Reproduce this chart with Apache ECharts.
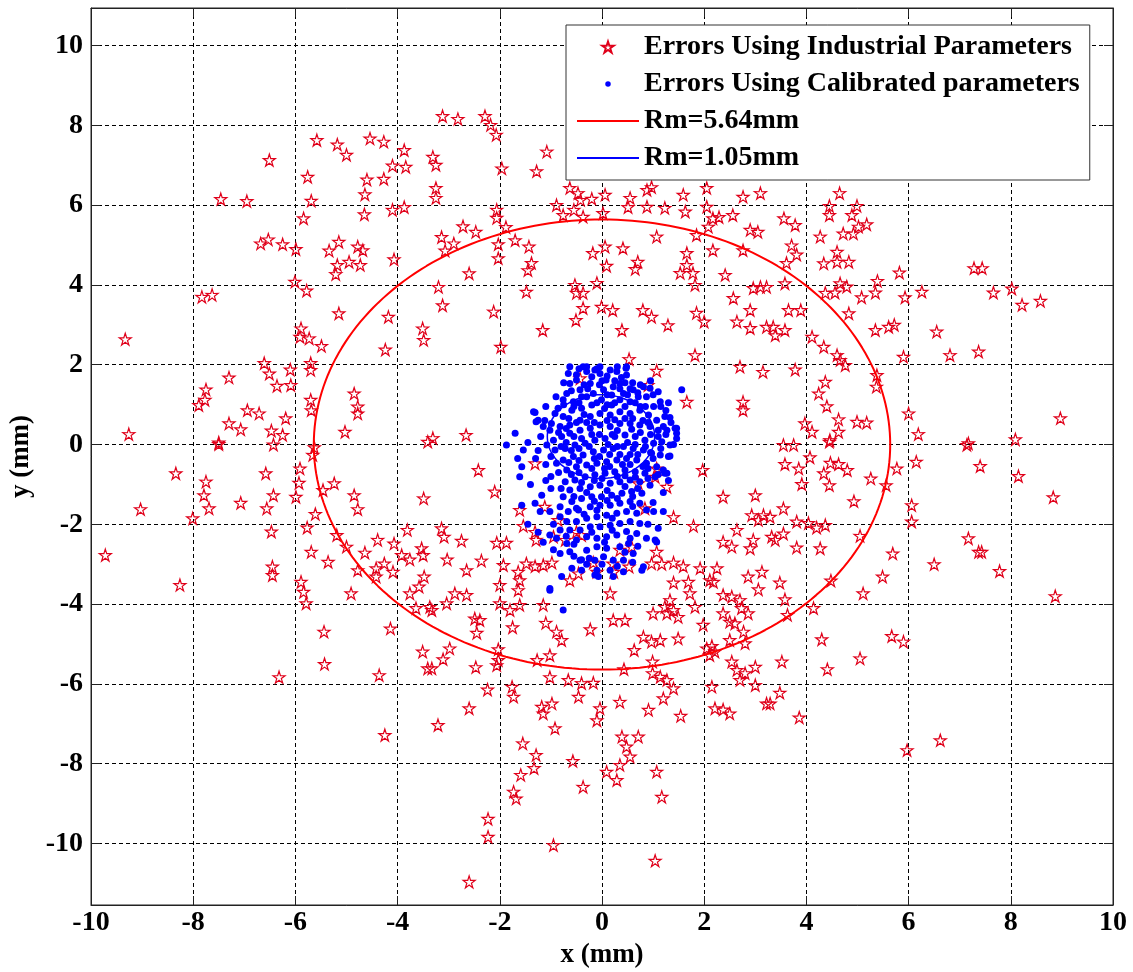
<!DOCTYPE html>
<html>
<head>
<meta charset="utf-8">
<script src="https://cdn.jsdelivr.net/npm/echarts@6/dist/echarts.min.js"></script>
<style>html,body{margin:0;padding:0;background:#fff}#chart{width:1133px;height:972px}</style>
</head>
<body>
<div id="chart"></div>
<script>
// tick values
var yTicks = [-10, -8, -6, -4, -2, 0, 2, 4, 6, 8, 10];

// circle radii (mm) and centres
var industrialRm = 5.64, industrialCenter = [0, 0];
var calibratedRm = 1.05, calibratedCenter = [-0.02, 0.2];

// errors using industrial parameters (x, y in mm)
var industrialErrors = [
  [-3.12,8.23],[-2.82,8.16],[-2.29,8.23],[-2.18,8.01],[-2.07,7.76],[-3.31,7.21],[-3.25,7.01],[-1.08,7.34],[-1.96,6.92],[-1.28,6.85],
  [-3.25,6.43],[-3.25,6.18],[-0.63,6.43],[-0.47,6.3],[-0.42,6.13],[-0.2,6.16],[0.06,6.26],[-0.89,6.0],[-0.76,5.75],[-0.55,5.88],
  [-0.37,5.71],[0.02,5.8],[0.55,6.18],[0.51,5.95],[0.88,6.38],[0.97,6.45],[0.88,5.96],[1.23,5.93],[1.59,6.26],[1.63,5.84],
  [2.05,6.43],[2.05,5.96],[2.17,5.67],[2.29,5.7],[2.56,5.75],[2.76,6.21],[3.1,6.3],[-2.06,5.88],[-2.06,5.68],[-1.88,5.45],
  [-2.72,5.47],[-2.47,5.33],[-3.14,5.2],[-2.9,5.04],[-3.07,4.86],[-2.03,5.02],[-2.03,4.67],[-1.7,5.12],[-1.43,4.96],[-1.38,4.55],
  [-1.45,4.37],[-2.6,4.29],[-0.18,4.8],[0.06,4.96],[0.09,4.48],[0.41,4.92],[0.7,4.58],[0.65,4.4],[1.07,5.21],[1.66,4.8],
  [1.66,4.5],[1.53,4.3],[1.78,4.3],[1.82,4.0],[1.85,5.25],[2.08,5.46],[2.17,4.87],[2.76,4.87],[2.9,5.38],[3.05,5.33],
  [2.41,4.25],[2.96,3.92],[3.1,3.95],[3.22,3.95],[-3.2,3.95],[-3.12,3.49],[-1.48,3.83],[-2.12,3.33],[-0.53,4.0],[-0.5,3.8],
  [-0.37,3.8],[-0.1,4.05],[-0.37,3.42],[-0.51,3.12],[-1.16,2.87],[-0.01,3.45],[0.21,3.37],[0.39,2.87],[0.8,3.37],[0.97,3.2],
  [1.29,2.99],[1.85,3.3],[2.0,3.08],[2.57,3.67],[2.64,3.08],[2.9,3.37],[2.9,2.92],[3.22,2.95],[-1.98,2.45],[0.53,2.14],
  [1.82,2.24],[1.07,1.85],[0.9,1.49],[1.66,1.07],[2.7,1.95],[3.15,1.82],[2.76,1.07],[2.76,0.86],[-2.66,0.24],[-3.31,0.16],
  [-0.43,1.66],
  [-5.58,7.63],[-5.18,7.52],[-5.0,7.26],[-4.54,7.67],[-4.27,7.59],[-3.87,7.38],[-6.51,7.13],[-5.76,6.71],[-4.6,6.64],[-4.27,6.66],
  [-4.1,6.99],[-3.84,6.96],[-4.64,6.27],[-7.46,6.15],[-6.95,6.1],[-5.69,6.11],[-4.65,5.77],[-4.1,5.88],[-3.87,5.95],[-5.84,5.67],
  [-6.68,5.04],[-6.53,5.14],[-6.25,5.02],[-5.99,4.9],[-5.34,4.86],[-5.15,5.08],[-4.78,4.96],[-4.68,4.87],[-5.18,4.5],[-5.21,4.27],
  [-4.95,4.58],[-4.73,4.5],[-4.07,4.64],[-6.01,4.08],[-5.78,3.86],[-7.83,3.7],[-7.63,3.75],[-5.15,3.29],[-4.18,3.2],[-9.33,2.64],
  [-5.89,2.91],[-5.91,2.7],[-5.73,2.66],[-5.49,2.47],[-4.24,2.38],[-3.51,2.91],[-3.49,2.62],[-5.7,2.04],[-5.7,1.87],[-6.61,2.04],
  [-6.51,1.78],[-6.1,1.88],[-6.09,1.49],[-7.3,1.68],[-6.36,1.47],[-7.75,1.38],[-7.77,1.12],[-7.89,0.99],[-6.94,0.86],[-6.71,0.78],
  [-6.19,0.66],[-5.7,1.12],[-5.69,0.86],[-4.85,1.28],[-4.78,0.95],[-4.78,0.78],[-7.3,0.53],[-7.07,0.38],[-6.47,0.35],[-6.25,0.24],
  [-9.26,0.26],[-5.03,0.32],[-7.5,0.05],[-6.43,0.0],[-3.41,0.07],
  [4.65,6.3],[4.45,5.98],[4.45,5.75],[4.99,5.98],[4.89,5.75],[3.56,5.67],[3.78,5.5],[5.18,5.52],[5.02,5.46],[4.27,5.21],
  [4.72,5.29],[4.92,5.29],[3.71,4.99],[3.81,4.76],[3.61,4.55],[4.6,4.83],[4.6,4.58],[4.83,4.58],[4.34,4.54],[5.82,4.31],
  [7.28,4.42],[7.44,4.42],[3.58,4.04],[4.66,4.04],[4.79,3.96],[4.37,3.8],[4.56,3.81],[5.39,4.1],[5.35,3.81],[5.08,3.69],
  [5.93,3.69],[6.26,3.83],[7.66,3.81],[8.02,3.91],[8.22,3.5],[8.58,3.6],[3.65,3.37],[3.89,3.37],[4.83,3.29],[3.35,2.95],
  [3.39,2.74],[3.58,2.87],[4.11,2.7],[4.34,2.45],[5.35,2.87],[5.61,2.95],[5.72,3.0],[6.55,2.83],[4.6,2.24],[4.66,2.12],
  [4.76,1.99],[3.78,1.88],[6.81,2.24],[7.37,2.33],[5.9,2.2],[5.38,1.74],[5.37,1.45],[4.37,1.57],[4.24,1.28],[4.4,0.96],
  [4.63,0.63],[4.99,0.57],[5.18,0.55],[3.97,0.53],[4.11,0.32],[4.63,0.32],[4.46,0.11],[6.0,0.78],[6.19,0.26],[8.97,0.66],
  [7.17,0.03],[8.09,0.13],[3.55,-0.01],[3.75,-0.01],
  [-7.5,0.01],[-8.34,-0.72],[-7.75,-0.93],[-7.79,-1.27],[-7.69,-1.6],[-9.03,-1.62],[-8.01,-1.85],[-7.07,-1.46],[-6.58,-0.72],[-6.56,-1.6],
  [-6.43,-1.27],[-6.47,-2.18],[-9.72,-2.77],[-6.45,-3.06],[-6.45,-3.27],[-8.26,-3.52],[-5.91,-0.6],[-5.93,-0.96],[-5.99,-1.31],[-5.63,-0.07],
  [-5.66,-0.26],[-5.46,-1.14],[-5.24,-0.97],[-4.85,-1.27],[-4.78,-1.62],[-5.61,-1.74],[-5.77,-2.08],[-5.69,-2.69],[-5.36,-2.94],[-5.19,-2.27],
  [-5.0,-2.56],[-4.64,-2.71],[-4.78,-3.15],[-5.89,-3.44],[-5.84,-3.69],[-5.79,-3.98],[-4.91,-3.73],[-4.39,-2.39],[-4.07,-2.48],[-3.81,-2.14],
  [-4.42,-3.1],[-4.26,-2.98],[-4.09,-3.19],[-4.42,-3.31],[-3.92,-2.77],[-3.76,-2.88],[-3.53,-2.6],[-3.5,-2.77],[-3.48,-3.31],[-3.58,-3.56],
  [-3.76,-3.73],[-3.64,-4.1],[-3.49,-1.35],[-5.44,-4.69],[-5.43,-5.5],[-6.32,-5.83],[-4.36,-5.78],[-4.14,-4.61],[-3.51,-5.19],[-3.41,-5.61],
  [-4.25,-7.28],
  [-2.42,-0.64],[-2.1,-1.18],[-1.31,-0.47],[-1.61,-1.64],[-1.12,-1.56],[-0.86,-1.89],[-1.54,-2.04],[-1.31,-2.19],[-1.29,-2.39],[-0.95,-2.31],
  [-0.72,-2.39],[-0.5,-2.19],[-0.4,-2.27],[-3.14,-2.1],[-3.09,-2.31],[-2.75,-2.41],[-2.06,-2.46],[-1.87,-2.46],[-3.03,-2.88],[-2.65,-3.15],
  [-2.36,-2.91],[-1.93,-3.02],[-1.64,-3.19],[-1.61,-3.4],[-1.64,-3.65],[-1.48,-2.98],[-1.31,-3.05],[-1.15,-3.02],[-0.98,-2.96],[-2.0,-3.52],
  [-0.63,-3.4],[-0.46,-3.23],[-0.17,-2.96],[-0.1,-3.19],[0.21,-2.98],[0.23,-3.19],[0.53,-3.06],[0.35,-2.64],[0.58,-2.56],[0.84,-1.6],
  [1.07,-0.6],[1.04,-0.81],[1.27,-1.06],[1.4,-1.82],[0.97,-2.98],[1.17,-2.99],[1.4,-2.96],[1.59,-3.05],[1.07,-2.69],[1.4,-3.46],
  [1.69,-3.44],[1.72,-3.73],[1.33,-3.9],[1.23,-4.07],[1.4,-4.15],[1.49,-4.32],[1.0,-4.23],[1.27,-4.23],[1.82,-4.07],[1.79,-2.04],
  [1.97,-0.64],[1.98,-4.52],[2.15,-5.05],[2.11,-5.28],[1.92,-3.1],[2.11,-3.4],[2.37,-1.31],[3.0,-1.27],[2.93,-1.77],[3.06,-1.89],
  [3.16,-1.77],[2.64,-2.14],[2.37,-2.44],[2.54,-2.56],[2.9,-2.6],[2.96,-2.39],[2.25,-3.1],[2.18,-3.44],[2.86,-3.31],[3.13,-3.19],
  [3.06,-3.63],[2.37,-3.77],[2.54,-3.81],[2.7,-3.9],[2.73,-4.1],[2.86,-4.23],[2.37,-4.23],[2.5,-4.44],[2.6,-4.48],[2.77,-4.69],
  [2.8,-4.98],[2.5,-4.9],[2.05,-5.11],[2.21,-5.19],[2.54,-5.44],[2.64,-5.65],[2.8,-5.73],[3.0,-5.57],[2.7,-5.9],[3.0,-6.03],
  [2.15,-6.07],[2.21,-6.61],[2.37,-6.64],[2.5,-6.74],[3.22,-6.49],[1.54,-6.8],[1.2,-6.36],[0.99,-5.44],[0.99,-5.73],[1.14,-5.82],
  [1.27,-5.9],[1.4,-6.11],[0.81,-4.82],[0.97,-4.94],[1.14,-4.9],[1.49,-4.86],[0.63,-5.15],[0.43,-5.63],[0.22,-4.4],[0.45,-4.4],
  [-0.23,-4.63],[-1.75,-4.58],[-1.1,-4.47],[-0.89,-4.69],[-0.79,-4.9],[-1.02,-5.28],[-1.27,-5.4],[-2.49,-4.36],[-2.39,-4.4],[-2.45,-4.72],
  [-2.03,-5.13],[-2.06,-5.53],[-2.03,-5.4],[-2.47,-5.58],[-2.98,-5.11],[-3.11,-5.38],[-3.33,-5.61],[-3.37,-4.07],[-3.33,-4.15],[-3.04,-3.98],
  [-2.88,-3.73],[-2.65,-3.77],[-2.0,-3.98],[-1.8,-4.15],[-1.61,-4.02],[-1.15,-4.02],[-2.24,-6.14],[-1.76,-6.07],[-1.73,-6.32],[-2.6,-6.61],
  [-3.21,-7.03],[-1.18,-6.57],[-0.98,-6.49],[-1.15,-6.74],[-0.92,-7.11],[-0.46,-6.32],[-0.4,-5.98],[-0.17,-5.97],[-0.66,-5.9],[-1.02,-5.83],
  [-0.04,-6.61],[-0.1,-6.91],[0.35,-6.45],[0.91,-6.65],[-1.55,-7.49],[-1.29,-7.78],[-1.33,-8.11],[-1.59,-8.28],[-1.73,-8.7],[-1.68,-8.87],
  [-0.57,-7.93],[-0.37,-8.58],[0.39,-7.32],[0.71,-7.32],[0.48,-7.57],[0.55,-7.82],[0.35,-8.03],[0.09,-8.2],[0.29,-8.41],[1.07,-8.2],
  [1.17,-8.83],[-2.23,-9.38],[-2.23,-9.83],[-0.95,-10.04],[1.04,-10.43],[-2.6,-10.96],[0.16,-3.73],[0.71,-0.97],
  [4.45,0.07],[4.07,-0.32],[3.58,-0.49],[3.85,-0.6],[3.91,-0.99],[4.47,-0.46],[4.63,-0.49],[4.8,-0.64],[4.34,-0.72],[4.45,-1.02],
  [5.26,-0.85],[4.93,-1.42],[5.77,-0.6],[6.15,-0.43],[6.06,-1.52],[6.06,-1.93],[5.56,-1.02],[7.14,-0.01],[7.4,-0.54],[8.15,-0.79],
  [8.83,-1.32],[3.55,-1.6],[3.29,-1.81],[3.32,-2.31],[3.81,-1.93],[4.04,-1.97],[4.2,-2.08],[4.37,-2.02],[3.55,-2.23],[3.39,-2.39],
  [3.81,-2.58],[4.27,-2.6],[5.05,-2.29],[5.69,-2.73],[5.49,-3.31],[5.11,-3.73],[4.48,-3.41],[3.48,-3.46],[3.58,-3.88],[3.63,-4.27],
  [4.14,-4.1],[7.17,-2.35],[7.37,-2.69],[7.43,-2.69],[6.5,-3.0],[7.78,-3.17],[8.87,-3.8],[4.3,-4.88],[4.41,-5.63],[5.05,-5.36],
  [5.67,-4.8],[5.9,-4.94],[3.52,-5.44],[3.48,-6.22],[3.29,-6.49],[3.86,-6.84],[5.97,-7.66],[6.62,-7.41]
];

// errors using calibrated parameters (x, y in mm)
var calibratedErrors = [
  [-0.30,1.95],[-0.30,1.83],[-0.66,1.78],[-0.50,1.62],[-0.14,1.87],[-0.04,1.78],[0.16,1.87],[0.29,1.83],[0.47,1.91],[0.48,1.74],
  [0.35,1.53],[0.08,1.62],[0.22,1.45],[-0.23,1.53],[-0.43,1.37],[-0.63,1.53],[-0.69,1.28],[-0.76,1.12],[-0.86,0.91],[-0.56,1.07],
  [-0.40,1.20],[-0.17,1.28],[0.03,1.37],[0.19,1.24],[0.42,1.28],[0.61,1.37],[0.81,1.45],[0.94,1.41],[1.10,1.32],[1.14,1.07],
  [1.01,0.95],[0.87,1.20],[0.71,1.20],[0.55,1.07],[0.35,1.12],[0.19,0.99],[-0.01,1.12],[-0.20,0.99],[-0.40,0.91],[-0.59,0.86],
  [-0.76,0.70],[-0.92,0.78],[-0.99,0.53],[-0.82,0.45],[-0.63,0.49],[-0.43,0.61],[-0.23,0.70],[-0.04,0.78],[0.16,0.74],[0.35,0.82],
  [0.55,0.78],[0.74,0.86],[0.91,0.74],[1.07,0.61],[1.23,0.70],[1.33,0.68],[1.43,0.41],[1.46,0.28],[1.27,0.36],[1.10,0.36],
  [0.94,0.45],[0.74,0.49],[0.55,0.53],[0.35,0.53],[0.16,0.45],[-0.04,0.49],[-0.23,0.41],[-0.43,0.36],[-0.63,0.28],[-0.79,0.20],
  [-0.95,0.11],[-1.02,0.36],[-1.08,-0.01],[-0.92,-0.14],[-0.72,-0.10],[-0.53,-0.01],[-0.33,0.03],[-0.14,0.11],[0.06,0.15],[0.25,0.20],
  [0.45,0.24],[0.65,0.20],[0.84,0.11],[1.01,0.03],[1.17,0.07],[1.33,-0.01],[1.30,-0.30],[1.14,-0.26],[0.97,-0.22],[0.81,-0.14],
  [0.61,-0.10],[0.42,-0.05],[0.22,-0.10],[0.03,-0.14],[-0.17,-0.18],[-0.37,-0.26],[-0.56,-0.30],[-0.76,-0.39],[-0.89,-0.47],[-0.69,-0.64],
  [-0.50,-0.56],[-0.30,-0.51],[-0.10,-0.47],[0.09,-0.43],[0.29,-0.39],[0.48,-0.35],[0.68,-0.39],[0.87,-0.47],[1.07,-0.56],[1.20,-0.64],
  [1.04,-0.81],[0.84,-0.72],[0.65,-0.68],[0.45,-0.64],[0.25,-0.68],[0.06,-0.72],[-0.14,-0.76],[-0.33,-0.81],[-0.53,-0.89],[-0.72,-0.93],
  [-0.63,-1.14],[-0.43,-1.10],[-0.23,-1.06],[-0.04,-1.02],[0.16,-0.97],[0.35,-0.93],[0.55,-0.89],[0.74,-0.93],[0.94,-1.02],[0.78,-1.22],
  [0.58,-1.18],[0.39,-1.22],[0.19,-1.27],[-0.01,-1.31],[-0.20,-1.31],[-0.40,-1.35],[-0.59,-1.43],[-0.76,-1.31],[-0.82,-1.56],[-0.66,-1.68],
  [-0.46,-1.64],[-0.23,-1.56],[-0.04,-1.52],[0.16,-1.52],[0.35,-1.47],[0.55,-1.43],[0.74,-1.47],[0.87,-1.64],[0.68,-1.72],[0.48,-1.68],
  [0.29,-1.72],[0.09,-1.77],[-0.10,-1.81],[-0.30,-1.85],[-0.50,-1.93],[-0.69,-1.93],[-0.82,-1.81],[-1.02,-1.68],[-1.18,-1.27],[-1.31,-1.47],
  [-1.57,-0.56],[-1.54,-0.14],[-1.34,0.82],[-1.25,0.61],[-1.12,0.60],[-1.70,0.28],[-1.87,-0.01],[-1.57,-1.52],[-0.82,-2.14],[-0.63,-2.14],
  [-0.43,-2.14],[-0.23,-2.06],[-0.04,-2.06],[0.16,-2.02],[0.35,-1.98],[0.55,-1.93],[0.74,-1.98],[1.01,-1.68],[1.07,-2.44],[0.87,-2.35],
  [0.68,-2.23],[0.48,-2.18],[0.29,-2.27],[0.09,-2.31],[-0.10,-2.35],[-0.30,-2.31],[-0.50,-2.39],[-0.69,-2.48],[-0.89,-2.35],[-1.02,-2.27],
  [-0.82,-2.73],[-0.63,-2.69],[-0.10,-2.56],[0.09,-2.60],[0.35,-2.56],[0.52,-2.48],[0.61,-2.73],[0.42,-2.90],[0.22,-2.90],[0.03,-2.81],
  [-0.14,-2.90],[-0.43,-2.90],[-0.40,-3.15],[0.16,-3.15],[-0.10,-3.15],[0.78,-3.15],[0.81,-3.06],[-0.79,-3.31],[-1.02,-3.61],[0.22,-3.31],
  [-0.07,-3.31],[1.56,1.37],[1.46,0.15],[1.27,-0.72],[-1.61,-0.81],[-1.21,-1.68],[-0.95,-2.64],[-0.59,-3.10],
  [-0.76,-4.15],[-0.40,-2.89],[-0.14,-3.27],[0.42,-3.19],[1.04,-2.39],[1.20,-1.68],[1.23,-0.72],[1.33,-0.29],
  [-0.63,1.95],[-0.37,1.95],[-0.04,1.95],[0.48,1.95],[1.46,0.41],[-1.29,0.57],[-1.31,0.80],
  [-0.5,1.75],[-0.2,1.7],[0.1,1.72],[0.38,1.68],[0.6,1.55],[-0.35,1.5],[-0.05,1.5],[0.25,1.6],[0.55,1.4],[-0.6,1.35],
  [-0.28,1.4],[0.1,1.25],[0.35,1.4],[0.7,1.3],[-0.75,1.0],[-0.45,1.05],[-0.1,1.05],[0.25,1.05],[0.65,1.05],[0.85,0.95],
  [-0.65,0.65],[-0.35,0.75],[0.05,0.9],[0.45,0.95],[0.9,0.55],[-0.85,0.3],[-0.5,0.55],[-0.15,0.55],[0.25,0.62],[0.6,0.65],
  [1.2,0.45],[-0.7,0.05],[-0.4,0.15],[-0.05,0.25],[0.3,0.35],[0.58,0.38],[0.95,0.25],[-1.0,-0.3],[-0.6,-0.15],[-0.25,-0.05],
  [0.12,0.0],[0.5,0.05],[0.85,-0.05],[-0.85,-0.7],[-0.45,-0.4],[-0.05,-0.3],[0.35,-0.25],[0.7,-0.25],[1.0,-0.35],[-0.6,-0.75],
  [-0.2,-0.6],[0.15,-0.55],[0.55,-0.5],[0.9,-0.6],[-0.4,-0.95],[0.0,-0.85],[0.3,-0.8],[0.65,-0.82],[-0.3,-1.2],[0.1,-1.15],
  [0.45,-1.05],[0.7,-1.1],[-0.55,-1.3],[0.3,-1.35],[0.6,-1.3],[-0.15,-1.42],[0.1,-1.4],
  [-1.02,-3.65],[-1.4,-1.0],[-1.45,-2.0],[-1.25,-2.2],[-1.65,-0.35],[-1.45,0.05],[-1.3,-0.35],[-1.1,-0.9],[-1.0,-1.1],[1.2,-1.2],
  [1.3,-0.9],[1.4,0.0],[1.25,0.25],[1.15,0.95],[1.3,1.05],[0.95,1.6],[1.0,-1.45],[0.9,-2.0],[0.7,-2.55],[1.1,-2.1],
  [-0.3,-2.65],[-0.55,-2.5],[-0.95,-2.0],[-1.15,-2.45],[0.0,-3.0],[0.45,-2.7],[0.05,-2.45],[-0.25,-2.85],
  [-0.45,1.9],[-0.1,1.9],[0.3,1.95],[-0.75,1.55],[0.0,1.6],[0.45,1.55],[0.75,1.5],[-0.9,1.2],[-0.3,1.2],[0.5,1.25],
  [1.0,1.25],[-1.1,0.95],[-0.55,0.95],[0.1,1.0],[0.75,0.95],[1.25,0.85],[-1.15,0.45],[-0.7,0.4],[-0.3,0.55],[0.1,0.6],
  [0.45,0.65],[0.8,0.6],[1.35,0.55],[-1.2,0.2],[-0.55,0.2],[-0.2,0.25],[0.2,0.25],[0.75,0.3],[1.1,0.2],[-1.25,-0.15],
  [-0.8,-0.05],[-0.45,-0.1],[0.3,-0.05],[0.65,0.0],[1.15,-0.1],[-1.1,-0.5],[-0.65,-0.45],[-0.15,-0.35],[0.15,-0.25],[0.55,-0.25],
  [0.95,-0.2],[-1.0,-0.8],[-0.45,-0.7],[0.05,-0.6],[0.4,-0.5],[0.8,-0.55],[1.1,-0.75],[-0.8,-1.1],[-0.15,-0.9],[0.45,-0.78],
  [0.9,-0.85],[-0.5,-1.6],[-0.1,-1.65],[0.2,-1.85],[0.6,-1.55],[-0.35,-1.75],[-0.7,-2.3],[-0.2,-2.2],[0.2,-2.15],[0.55,-2.35],
  [-0.55,-2.8],[0.3,-3.05],[-0.3,-3.0],[0.6,-2.95]
];

function circlePoints(center, r) {
  var pts = [];
  for (var i = 0; i <= 240; i++) {
    var t = i / 240 * 2 * Math.PI;
    pts.push([center[0] + r * Math.cos(t), center[1] + r * Math.sin(t)]);
  }
  return pts;
}

var starPath = 'path://M50,0L61.2,34.6L97.6,34.5L68.1,55.9L79.4,90.5L50,69L20.6,90.5L31.9,55.9L2.4,34.5L38.8,34.6Z';
var dotPath = 'path://M0,0M10,10M2.5,5a2.5,2.5 0 1 0 5,0a2.5,2.5 0 1 0 -5,0Z';
var font = 'Liberation Serif';

var myChart = echarts.init(document.getElementById('chart'));
var option = {
  animation: false,
  backgroundColor: '#fff',
  grid: {
    left: 91, right: 20, top: 8, bottom: 67,
    show: true, borderColor: '#222', borderWidth: 1,
    outerBoundsMode: 'none'
  },
  legend: {
    orient: 'vertical',
    left: 566, top: 25,
    padding: [8, 10, 8, 10],
    itemWidth: 62, itemHeight: 11, itemGap: 9,
    backgroundColor: '#fff', borderColor: '#333', borderWidth: 1,
    selectedMode: false,
    textStyle: { fontFamily: font, fontWeight: 'bold', fontSize: 28, color: '#000', lineHeight: 28 },
    data: [
      { name: 'Errors Using Industrial Parameters', icon: starPath },
      { name: 'Errors Using Calibrated parameters', icon: dotPath },
      { name: 'Rm=5.64mm', itemStyle: { opacity: 0 } },
      { name: 'Rm=1.05mm', itemStyle: { opacity: 0 } }
    ]
  },
  xAxis: [{
    type: 'value', min: -10, max: 10, interval: 2,
    name: 'x (mm)', nameLocation: 'middle', nameGap: 31,
    nameTextStyle: { fontFamily: font, fontWeight: 'bold', fontSize: 27, color: '#000' },
    axisLine: { onZero: false, lineStyle: { color: '#222', width: 1 } },
    axisTick: { inside: true, length: 9, lineStyle: { color: '#222' } },
    axisLabel: { margin: 4, fontFamily: font, fontWeight: 'bold', fontSize: 28, color: '#000' },
    splitLine: { show: true, lineStyle: { color: '#000', width: 1, type: [4, 3] } }
  }, {
    type: 'value', min: -10, max: 10, interval: 2, position: 'top',
    axisLine: { onZero: false, lineStyle: { color: '#222', width: 1 } },
    axisTick: { inside: true, length: 9, lineStyle: { color: '#222' } },
    axisLabel: { show: false }, splitLine: { show: false }
  }],
  yAxis: [{
    type: 'value', min: -11.54, max: 10.94,
    name: 'y (mm)', nameLocation: 'middle', nameGap: 39,
    nameTextStyle: { fontFamily: font, fontWeight: 'bold', fontSize: 27, color: '#000' },
    axisLine: { onZero: false, lineStyle: { color: '#222', width: 1 } },
    axisTick: { inside: true, length: 9, customValues: yTicks, lineStyle: { color: '#222' } },
    axisLabel: { margin: 8, customValues: yTicks, fontFamily: font, fontWeight: 'bold', fontSize: 28, color: '#000' },
    splitLine: { show: true, lineStyle: { color: '#000', width: 1, type: [4, 3] } }
  }, {
    type: 'value', min: -11.54, max: 10.94, position: 'right',
    axisLine: { onZero: false, lineStyle: { color: '#222', width: 1 } },
    axisTick: { inside: true, length: 9, customValues: yTicks, lineStyle: { color: '#222' } },
    axisLabel: { show: false, customValues: yTicks }, splitLine: { show: false }
  }],
  series: [{
    name: 'Errors Using Industrial Parameters',
    type: 'scatter',
    symbol: starPath,
    symbolSize: 12,
    itemStyle: { color: 'rgba(0,0,0,0)', borderColor: '#e0001a', borderWidth: 1.2, opacity: 1 },
    data: industrialErrors
  }, {
    name: 'Errors Using Calibrated parameters',
    type: 'scatter',
    symbol: 'circle',
    symbolSize: 7,
    itemStyle: { color: '#0000ff', opacity: 1 },
    data: calibratedErrors
  }, {
    name: 'Rm=5.64mm',
    type: 'line',
    symbol: 'none', showSymbol: false,
    lineStyle: { color: '#ff0000', width: 2 },
    itemStyle: { color: '#ff0000' },
    data: circlePoints(industrialCenter, industrialRm)
  }, {
    name: 'Rm=1.05mm',
    type: 'line',
    symbol: 'none', showSymbol: false,
    lineStyle: { color: '#0000ff', width: 1.5 },
    itemStyle: { color: '#0000ff' },
    data: circlePoints(calibratedCenter, calibratedRm)
  }]
};
myChart.setOption(option);
</script>
</body>
</html>
